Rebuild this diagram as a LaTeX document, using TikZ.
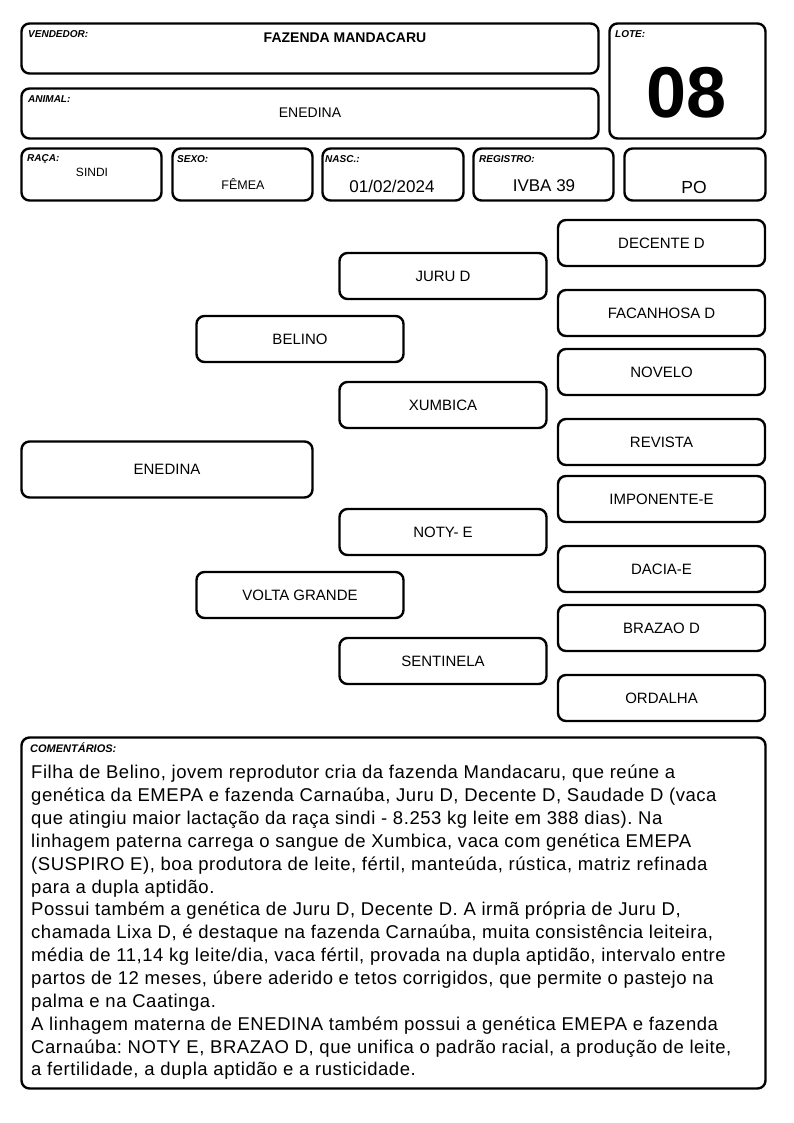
\documentclass[tikz,border=0pt]{standalone}
\usepackage{fontspec}
\setmainfont{Liberation Sans}
\newfontfamily\comfont[LetterSpace=3]{Liberation Sans}
\usetikzlibrary{positioning}
\frenchspacing
\tikzset{
  cbox/.style={draw=cline,line width=2.4pt,rounded corners=8pt,inner sep=0pt},
  pbox/.style={cbox,minimum width=207pt,minimum height=46pt,font=\fontsize{15}{18}\selectfont},
  tag/.style={anchor=north west,inner sep=0pt,font=\fontsize{10}{12}\selectfont\bfseries\itshape},
  val/.style={inner sep=0pt,font=\fontsize{14}{17}\selectfont},
}
\begin{document}
\begin{tikzpicture}[x=1pt,y=-1pt]
%
\useasboundingbox (0,0) rectangle (794,1123);
%
\definecolor{cline}{rgb}{0.0,0.0,0.0}
\definecolor{ctext}{rgb}{0.0,0.0,0.0}
%
% header
\node[cbox,minimum width=577pt,minimum height=50pt] (vend) at (310,48.5) {};
\node[tag] (vendtag) at (28,30) {VENDEDOR:};
\node[val,font=\fontsize{14}{17}\selectfont\bfseries] (vendval) at (345,38) {FAZENDA MANDACARU};
\node[cbox,minimum width=577pt,minimum height=50pt] (anim) at (310,113.5) {};
\node[tag] (animtag) at (28,95) {ANIMAL:};
\node[val] (animval) at (310,113) {ENEDINA};
\node[cbox,minimum width=156pt,minimum height=115pt] (lote) at (687.5,81) {};
\node[tag] (lotetag) at (615,30) {LOTE:};
\node[val,font=\fontsize{72}{74}\selectfont\bfseries] (loteval) at (687,93) {08};
%
\node[cbox,minimum width=140pt,minimum height=52pt] (raca) at (91.5,174.5) {};
\node[tag] (racatag) at (27,154) {RAÇA:};
\node[val,font=\fontsize{12}{15}\selectfont] (racaval) at (92,172) {SINDI};
\node[cbox,minimum width=140pt,minimum height=52pt] (sexo) at (242.5,174.5) {};
\node[tag] (sexotag) at (177,155) {SEXO:};
\node[val,font=\fontsize{12.5}{15}\selectfont] (sexoval) at (243,184) {FÊMEA};
\node[cbox,minimum width=141pt,minimum height=52pt] (nasc) at (393,174.5) {};
\node[tag] (nasctag) at (325,155) {NASC.:};
\node[val,font=\fontsize{17}{20}\selectfont] (nascval) at (392,186) {01/02/2024};
\node[cbox,minimum width=140pt,minimum height=52pt] (regi) at (543.5,174.5) {};
\node[tag] (regitag) at (479,155) {REGISTRO:};
\node[val,font=\fontsize{17}{20}\selectfont] (regival) at (544,186) {IVBA 39};
\node[cbox,minimum width=141pt,minimum height=52pt] (cat) at (695,174.5) {};
\node[val,font=\fontsize{17.5}{20}\selectfont] (catval) at (694,187) {PO};
%
% genealogy
\node[cbox,minimum width=291pt,minimum height=56pt,font=\fontsize{15}{18}\selectfont] (animal) at (167,469.5) {ENEDINA};
%
\node[pbox] (pai) at (300,339) {BELINO};
\node[pbox] (mae) at (300,595) {VOLTA GRANDE};
%
\node[pbox] (avopp) at (443,276) {JURU D};
\node[pbox] (avomp) at (443,405) {XUMBICA};
\node[pbox] (avopm) at (443,532) {NOTY- E};
\node[pbox] (avomm) at (443,661) {SENTINELA};
%
\node[pbox] (bis1) at (661.5,243) {DECENTE D};
\node[pbox] (bis2) at (661.5,313) {FACANHOSA D};
\node[pbox] (bis3) at (661.5,372) {NOVELO};
\node[pbox] (bis4) at (661.5,442) {REVISTA};
\node[pbox] (bis5) at (661.5,499) {IMPONENTE-E};
\node[pbox] (bis6) at (661.5,569) {DACIA-E};
\node[pbox] (bis7) at (661.5,628) {BRAZAO D};
\node[pbox] (bis8) at (661.5,698) {ORDALHA};
%
% comments
\node[cbox,minimum width=744pt,minimum height=351pt] (com) at (393.5,913) {};
\node[tag,font=\fontsize{11}{13}\selectfont\bfseries\itshape] (comtag) at (30,743) {COMENTÁRIOS:};
\node[anchor=north west,inner sep=0pt,align=left,font=\comfont\fontsize{18.5}{22.85}\selectfont] (comtxt) at (31,765) {%
Filha de Belino, jovem reprodutor cria da fazenda Mandacaru, que reúne a\\
genética da EMEPA e fazenda Carnaúba, Juru D, Decente D, Saudade D (vaca\\
que atingiu maior lactação da raça sindi - 8.253 kg leite em 388 dias). Na\\
linhagem paterna carrega o sangue de Xumbica, vaca com genética EMEPA\\
(SUSPIRO E), boa produtora de leite, fértil, manteúda, rústica, matriz refinada\\
para a dupla aptidão.\\
Possui também a genética de Juru D, Decente D. A irmã própria de Juru D,\\
chamada Lixa D, é destaque na fazenda Carnaúba, muita consistência leiteira,\\
média de 11,14 kg leite/dia, vaca fértil, provada na dupla aptidão, intervalo entre\\
partos de 12 meses, úbere aderido e tetos corrigidos, que permite o pastejo na\\
palma e na Caatinga.\\
A linhagem materna de ENEDINA também possui a genética EMEPA e fazenda\\
Carnaúba: NOTY E, BRAZAO D, que unifica o padrão racial, a produção de leite,\\
a fertilidade, a dupla aptidão e a rusticidade.};
%
\end{tikzpicture}
\end{document}
